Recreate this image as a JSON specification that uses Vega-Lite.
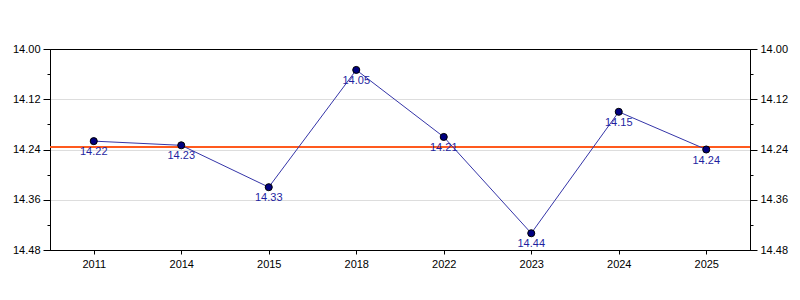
{
  "$schema": "https://vega.github.io/schema/vega-lite/v6.json",
  "width": 700,
  "height": 201,
  "autosize": "none",
  "padding": {"left": 50, "top": 49, "right": 50, "bottom": 50},
  "background": "white",
  "config": {
    "view": {"stroke": "black", "strokeWidth": 1},
    "font": "Liberation Sans",
    "axis": {"labelFont": "Liberation Sans", "labelFontSize": 11, "labelColor": "black", "domainColor": "black", "tickColor": "black"}
  },
  "data": {
    "values": [
      {"year": "2011", "value": 14.22},
      {"year": "2014", "value": 14.23},
      {"year": "2015", "value": 14.33},
      {"year": "2018", "value": 14.05},
      {"year": "2022", "value": 14.21},
      {"year": "2023", "value": 14.44},
      {"year": "2024", "value": 14.15},
      {"year": "2025", "value": 14.24}
    ]
  },
  "encoding": {
    "x": {"field": "year", "type": "ordinal", "scale": {"type": "point", "padding": 0.5}, "sort": null,
      "axis": {"title": null, "labelAngle": 0, "tickSize": 4, "labelPadding": 4, "grid": false}}
  },
  "layer": [
    {
      "mark": {"type": "rule", "color": "#ff5a1e", "strokeWidth": 2},
      "encoding": {
        "x": null,
        "y": {"aggregate": "mean", "field": "value", "type": "quantitative",
          "scale": {"domain": [14.0, 14.48], "reverse": true, "nice": false, "zero": false},
          "axis": {"orient": "left", "title": null, "values": [14.0, 14.12, 14.24, 14.36, 14.48], "format": ".2f", "grid": true,
            "gridColor": {"condition": {"test": "datum.value <= 14.001 || datum.value >= 14.479", "value": "black"}, "value": "#dddddd"},
            "tickSize": 7, "labelPadding": 3}}
      }
    },
    {
      "mark": {"type": "line", "color": "#3535a8", "strokeWidth": 1},
      "encoding": {
        "y": {"field": "value", "type": "quantitative",
          "axis": {"orient": "right", "title": null, "values": [14.0, 14.12, 14.24, 14.36, 14.48], "format": ".2f", "grid": false, "tickSize": 7, "labelPadding": 3}}
      }
    },
    {
      "mark": {"type": "point", "filled": true, "color": "#000080", "stroke": "black", "strokeWidth": 1, "size": 50, "opacity": 1},
      "encoding": {
        "y": {"field": "value", "type": "quantitative",
          "axis": {"orient": "left", "title": null, "values": [14.06, 14.18, 14.30, 14.42], "labels": false, "grid": false, "tickSize": 3, "domain": false}}
      }
    },
    {
      "mark": {"type": "text", "color": "#1f1f9f", "fontSize": 11, "baseline": "top", "dy": 5, "font": "Liberation Sans"},
      "encoding": {
        "y": {"field": "value", "type": "quantitative",
          "axis": {"orient": "right", "title": null, "values": [14.06, 14.18, 14.30, 14.42], "labels": false, "grid": false, "tickSize": 3, "domain": false}},
        "text": {"field": "value", "type": "quantitative", "format": ".2f"}
      }
    }
  ],
  "resolve": {"axis": {"y": "independent"}}
}
